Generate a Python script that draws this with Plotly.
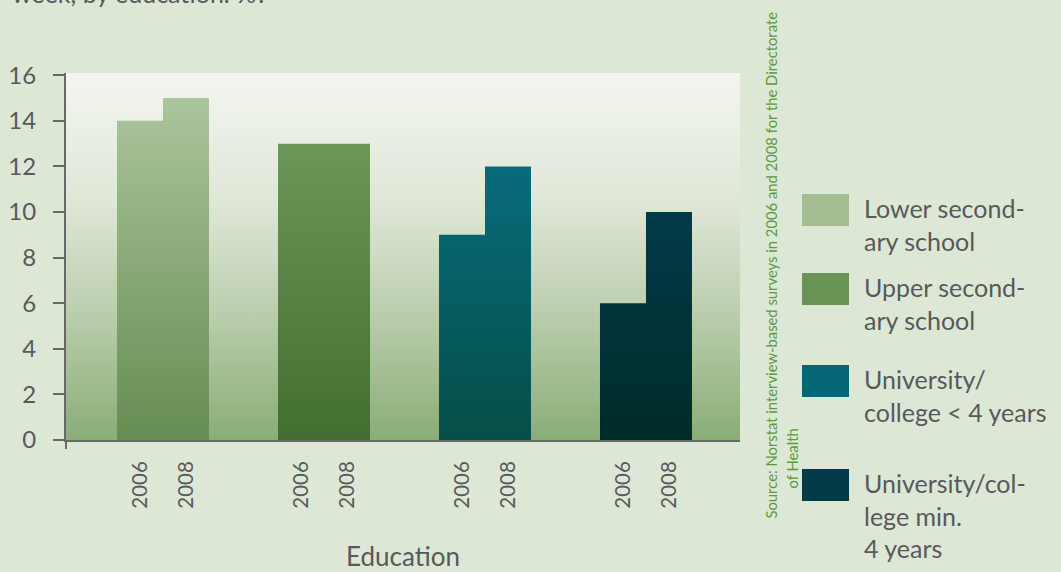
import plotly.graph_objects as go

# ---- data -------------------------------------------------------------
categories = [
    "Lower secondary school",
    "Upper secondary school",
    "University/college < 4 years",
    "University/college min. 4 years",
]
years = ["2006", "2008"]
values_2006 = [14, 13, 9, 6]
values_2008 = [15, 13, 12, 10]
legend_labels = [
    "Lower second-<br>ary school",
    "Upper second-<br>ary school",
    "University/<br>college < 4 years",
    "University/col-<br>lege min.<br>4 years",
]
y_ticks = [0, 2, 4, 6, 8, 10, 12, 14, 16]

# ---- styling ----------------------------------------------------------
FONT = "Lato"
TEXT = "#58595b"
AXIS = "#686868"
PAGE_BG = "#dde7d6"
# (bottom colour, top colour) of each series' vertical gradient
series_grad = [
    ("#658d51", "#abc59c"),
    ("#426e2f", "#6c9758"),
    ("#054f47", "#076b7b"),
    ("#002c29", "#013a48"),
]
legend_colors = ["#a3bd90", "#6a9455", "#056676", "#023b48"]
plot_grad = [
    [0.0, "#8aad77"],
    [0.38, "#bfd1b2"],
    [0.65, "#dfe7d7"],
    [1.0, "#f3f6f0"],
]

W, H = 1061, 572
ML, MR, MT, MB = 66, 321, 73, 132
X_RANGE = [-0.6025, 3.584]
Y_RANGE = [0, 16.1]
BAR_W = 0.2857  # width of one year's bar, in category units


def px_x(px):
    return (px - ML) / (W - ML - MR)


def px_y(py):
    return (H - MB - py) / (H - MT - MB)


fig = go.Figure()

# plot-area background with vertical gradient
fig.add_trace(go.Scatter(
    x=[X_RANGE[0], X_RANGE[1], X_RANGE[1], X_RANGE[0], X_RANGE[0]],
    y=[Y_RANGE[0], Y_RANGE[0], Y_RANGE[1], Y_RANGE[1], Y_RANGE[0]],
    mode="lines", line=dict(width=0), fill="toself",
    fillgradient=dict(type="vertical", colorscale=plot_grad,
                      start=Y_RANGE[0], stop=Y_RANGE[1]),
    hoverinfo="skip", showlegend=False,
))

# bars: one gradient-filled trace per education level (2006 and 2008 side by side)
for i, name in enumerate(categories):
    xs, ys = [], []
    for j, v in enumerate([values_2006[i], values_2008[i]]):
        x0 = i - BAR_W + j * BAR_W
        x1 = x0 + BAR_W
        xs += [x0, x0, x1, x1, x0, None]
        ys += [0, v, v, 0, 0, None]
    bottom, top = series_grad[i]
    fig.add_trace(go.Scatter(
        x=xs, y=ys, mode="lines", line=dict(width=0), fill="toself",
        fillgradient=dict(type="vertical",
                          colorscale=[[0, bottom], [1, top]],
                          start=0, stop=max(values_2006[i], values_2008[i])),
        name=name, showlegend=False,
        hoveron="fills", hoverinfo="name",
    ))

# year tick positions under each bar
tickvals, ticktext = [], []
for i in range(len(categories)):
    for j, yr in enumerate(years):
        tickvals.append(i - BAR_W / 2 + j * BAR_W)
        ticktext.append(yr)

shapes = [
    # small tick below the left end of the x axis
    dict(type="line", xref="paper", yref="paper", x0=0, x1=0,
         y0=0, y1=px_y(H - MB + 9), line=dict(color=AXIS, width=2)),
]
annotations = []

# manual legend
sq_tops = [194, 273, 365, 469]
for k, col in enumerate(legend_colors):
    shapes.append(dict(
        type="rect", xref="paper", yref="paper",
        x0=px_x(802), x1=px_x(849), y0=px_y(sq_tops[k] + 32), y1=px_y(sq_tops[k]),
        fillcolor=col, line=dict(width=0),
    ))
    annotations.append(dict(
        text=legend_labels[k], xref="paper", yref="paper",
        x=px_x(862), y=px_y(sq_tops[k] - 3),
        xanchor="left", yanchor="top", align="left", showarrow=False,
        font=dict(family=FONT, size=25, color=TEXT),
    ))

# source note, rotated
annotations.append(dict(
    text="Source: Norstat interview-based surveys in 2006 and 2008 for the Directorate",
    xref="paper", yref="paper", x=px_x(770), y=px_y(265.5),
    xanchor="center", yanchor="middle", textangle=-90, showarrow=False,
    font=dict(family=FONT, size=14.8, color="#5b9b3d"),
))
annotations.append(dict(
    text="of Health",
    xref="paper", yref="paper", x=px_x(792), y=px_y(458.5),
    xanchor="center", yanchor="middle", textangle=-90, showarrow=False,
    font=dict(family=FONT, size=14.8, color="#5b9b3d"),
))

# title (last line only, running off the top edge)
annotations.append(dict(
    text="week, by education. %?",
    xref="paper", yref="paper", x=px_x(10), y=px_y(10),
    xanchor="left", yanchor="bottom", showarrow=False,
    font=dict(family=FONT, size=25, color=TEXT),
))

fig.update_layout(
    width=W, height=H,
    margin=dict(l=ML, r=MR, t=MT, b=MB, autoexpand=False),
    paper_bgcolor=PAGE_BG, plot_bgcolor="rgba(0,0,0,0)",
    font=dict(family=FONT, color=TEXT),
    showlegend=False,
    shapes=shapes, annotations=annotations,
    xaxis=dict(
        range=X_RANGE, showgrid=False, zeroline=False,
        showline=True, linecolor=AXIS, linewidth=2,
        tickmode="array", tickvals=tickvals, ticktext=ticktext,
        tickangle=-90, ticks="", ticklabelstandoff=11,
        tickfont=dict(family=FONT, size=20.5, color=TEXT),
        title=dict(text="Education", standoff=46,
                   font=dict(family=FONT, size=26, color=TEXT)),
        fixedrange=True,
    ),
    yaxis=dict(
        range=Y_RANGE, showgrid=False, zeroline=False,
        showline=True, linecolor=AXIS, linewidth=2,
        tickmode="array", tickvals=y_ticks,
        ticks="outside", ticklen=11, tickwidth=2, tickcolor=AXIS,
        ticklabelstandoff=12,
        tickfont=dict(family=FONT, size=24, color=TEXT),
        fixedrange=True,
    ),
)

fig.write_html("out.html")
